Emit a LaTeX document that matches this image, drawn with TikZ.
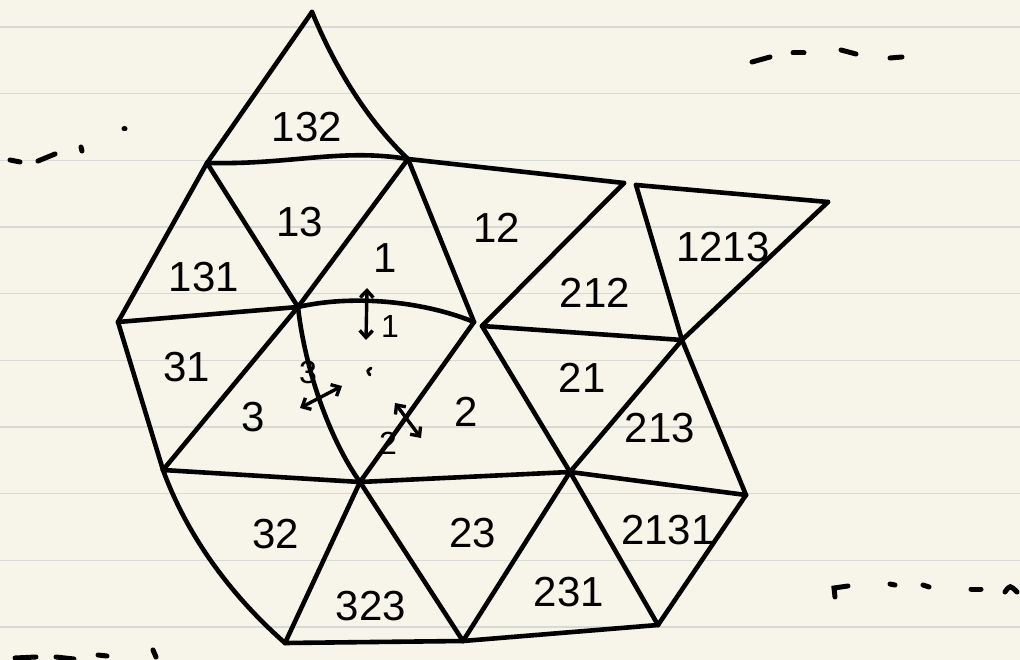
\documentclass[tikz,border=0pt]{standalone}
\usepackage{fontspec}
\setmainfont{Liberation Sans}
\usetikzlibrary{arrows.meta}
\definecolor{paper}{RGB}{247,245,234}
\definecolor{ruling}{RGB}{216,216,212}
\begin{document}
\begin{tikzpicture}[x=1pt,y=-1pt,
  edge/.style={line width=4.6pt,line cap=round,line join=round},
  lab/.style={font=\fontsize{42}{44}\selectfont,inner sep=0pt},
  slab/.style={font=\fontsize{32}{34}\selectfont,inner sep=0pt},
  wallarrow/.style={line width=3.4pt,line cap=round,{Straight Barb[length=7pt,width=13pt]}-{Straight Barb[length=7pt,width=13pt]}},
  scrib/.style={line width=5pt,line cap=round}]
\fill[paper] (0,0) rectangle (1020,660);
\useasboundingbox (0,0) rectangle (1020,660);
\foreach \k in {0,...,9} \draw[ruling,line width=1.6pt] (0,{27+66.67*\k}) -- (1020,{27+66.67*\k});
% vertices
\coordinate (T) at (312,12);
\coordinate (A1) at (207,163);
\coordinate (A2) at (408,159);
\coordinate (B) at (118,322);
\coordinate (C) at (298,307);
\coordinate (D) at (474,322);
\coordinate (D2) at (482,326);
\coordinate (E) at (624,183);
\coordinate (F) at (636,185);
\coordinate (G) at (828,202);
\coordinate (H) at (682,340);
\coordinate (J) at (163,470);
\coordinate (K) at (360,482);
\coordinate (L) at (570,472);
\coordinate (N) at (746,495);
\coordinate (O) at (285,643);
\coordinate (P) at (463,641);
\coordinate (Q) at (658,625);
% edges
\draw[edge] (T) -- (A1);
\draw[edge] (T) .. controls (338,75) and (372,125) .. (A2);
\draw[edge] (A1) .. controls (290,165) and (340,148) .. (A2);
\draw[edge] (A1) -- (C);
\draw[edge] (A2) -- (C);
\draw[edge] (A1) -- (B);
\draw[edge] (B) -- (C);
\draw[edge] (A2) -- (D);
\draw[edge] (C) .. controls (350,295) and (420,300) .. (D);
\draw[edge] (A2) -- (E);
\draw[edge] (E) -- (D2);
\draw[edge] (F) -- (G);
\draw[edge] (G) -- (H);
\draw[edge] (F) -- (H);
\draw[edge] (D2) -- (H);
\draw[edge] (D2) -- (L);
\draw[edge] (H) -- (L);
\draw[edge] (H) -- (N);
\draw[edge] (L) -- (N);
\draw[edge] (B) -- (J);
\draw[edge] (C) -- (J);
\draw[edge] (C) .. controls (305,370) and (330,440) .. (K);
\draw[edge] (D) -- (K);
\draw[edge] (K) -- (L);
\draw[edge] (J) -- (K);
\draw[edge] (J) .. controls (185,530) and (225,590) .. (O);
\draw[edge] (K) -- (O);
\draw[edge] (K) -- (P);
\draw[edge] (O) -- (P);
\draw[edge] (L) -- (P);
\draw[edge] (P) -- (Q);
\draw[edge] (L) -- (Q);
\draw[edge] (N) -- (Q);
% labels
\node[lab] (l132) at (307,127) {132};
\node[lab] (l13) at (300,222) {13};
\node[lab] (l131) at (204,277) {131};
\node[lab] (l1) at (385,258) {1};
\node[lab] (l12) at (497,228) {12};
\node[lab] (l212) at (595,293) {212};
\node[lab] (l1213) at (723,247) {1213};
\node[lab] (l31) at (187,367) {31};
\node[lab] (l3) at (253,417) {3};
\node[lab] (l2) at (466,412) {2};
\node[lab] (l21) at (582,378) {21};
\node[lab] (l213) at (660,428) {213};
\node[lab] (l32) at (276,534) {32};
\node[lab] (l23) at (473,533) {23};
\node[lab] (l323) at (371,606) {323};
\node[lab] (l231) at (569,592) {231};
\node[lab] (l2131) at (668,530) {2131};
% identity chamber walls
\coordinate (w1a) at (366,340);
\coordinate (w1b) at (367,288);
\draw[wallarrow] (w1a) -- (w1b);
\node[slab] (s1) at (390,326) {1};
\coordinate (w3a) at (300,408);
\coordinate (w3b) at (342,386);
\draw[wallarrow] (w3a) -- (w3b);
\node[slab] (s3) at (308,372) {3};
\coordinate (w2a) at (395,403);
\coordinate (w2b) at (421,438);
\draw[wallarrow] (w2a) -- (w2b);
\node[slab] (s2) at (388,443) {2};
\draw[line width=3pt,line cap=round] (371,368) .. controls (367,371) .. (370,375);
% scribbles
\draw[scrib] (10,160) -- (20,162);
\draw[scrib] (38,161) -- (55,154);
\draw[scrib] (81,147) -- (82,151);
\draw[scrib] (124,129) -- (125,129);
\draw[scrib] (752,62) -- (770,57);
\draw[scrib] (793,53) -- (804,53);
\draw[scrib] (841,50) -- (856,54);
\draw[scrib] (890,58) -- (902,57);
\draw[scrib] (835,597) -- (834,588) -- (848,586);
\draw[scrib] (890,584) -- (895,585);
\draw[scrib] (923,585) -- (929,587);
\draw[scrib] (971,589) -- (981,589);
\draw[scrib] (1005,592) .. controls (1010,585) .. (1017,592);
\draw[scrib] (15,658) -- (36,657);
\draw[scrib] (56,657) -- (74,659);
\draw[scrib] (98,655) -- (107,656);
\draw[scrib] (153,650) -- (156,657);
\end{tikzpicture}
\end{document}
